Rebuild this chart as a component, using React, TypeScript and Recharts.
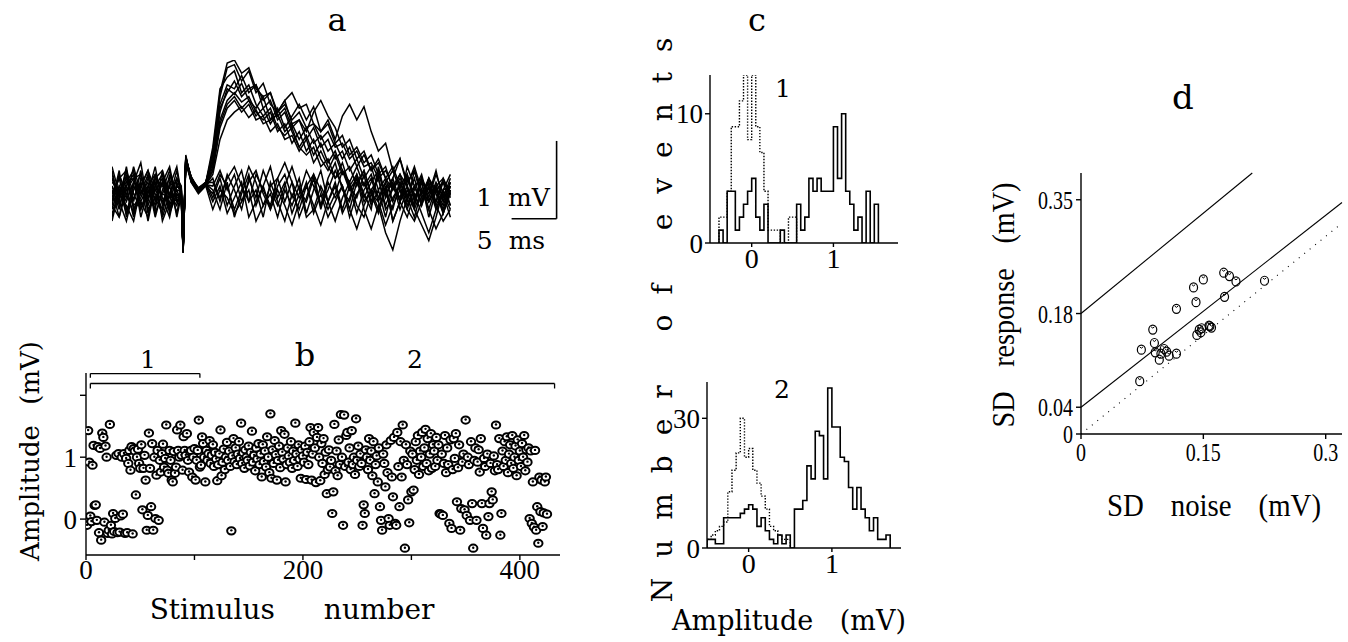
import React from 'react'
import { LineChart, Line, ScatterChart, Scatter, XAxis, YAxis, ReferenceLine } from 'recharts'

const SERIF = '"DejaVu Serif", "Liberation Serif", serif'
const TIMES = '"Liberation Serif", serif'

// ---- panel a: superimposed sweeps (mV vs ms) ----
const traceTimes = [0, 0.8, 1.6, 2.4, 3.2, 4, 4.8, 5.6, 6.4, 7.2, 7.7, 7.9, 8.2, 8.8, 9.6, 10.4, 11.2, 12, 12.8, 13.6, 14.4, 15.2, 16, 16.8, 17.6, 18.4, 19.2, 20, 20.8, 21.6, 22.4, 23.2, 24, 24.8, 25.6, 26.4, 27.2, 28, 28.8, 29.6, 30.4, 31.2, 32, 32.8, 33.6, 34.4, 35.2, 36, 36.8, 37.6]

const sweepR1 = [0.1, -0.2, 0.25, -0.1, 0.3, -0.25, 0.05, 0.2, -0.15, 0.1, 0.05, -0.74, 0.46, 0.18, 0.02, 0.12,
  0.55, 1.25, 1.62, 1.66, 1.45, 1.58, 1.3, 1.42, 1.15, 1.05, 1.2, 0.9, 0.95, 0.7, 0.85, 0.6, 0.7, 0.45, 0.55, 0.3, 0.45, 0.2, 0.35, 0.05, 0.2, -0.1, 0.15, -0.05, 0.2, -0.15, 0.1, -0.2, 0.05, 0.1]
const sweepR2 = [-0.3, 0.1, -0.05, 0.35, 0.0, 0.15, -0.3, 0.05, 0.3, -0.1, -0.05, -0.7, 0.42, 0.22, 0.06, 0.15,
  0.4, 1.05, 1.35, 1.28, 1.42, 1.2, 1.1, 1.25, 0.95, 1.1, 0.85, 1.0, 1.15, 0.95, 1.12, 0.8, 0.95, 0.7, 1.0, 1.15, 0.95, 1.12, 0.8, 0.55, 0.65, 0.3, 0.45, 0.15, 0.3, 0.0, 0.2, -0.1, 0.15, 0.0]
const sweepR3 = [0.2, -0.1, -0.35, 0.05, 0.25, -0.05, 0.15, -0.3, 0.0, 0.2, 0.1, -0.72, 0.5, 0.15, 0.0, 0.1,
  0.35, 0.95, 1.2, 1.3, 1.18, 1.25, 1.05, 0.95, 1.05, 0.8, 0.9, 0.65, 0.8, 0.55, 0.7, 0.45, 0.3, 0.5, 0.25, 0.35, 0.1, 0.3, 0.0, 0.2, -0.15, 0.1, -0.05, 0.25, -0.1, 0.15, -0.3, 0.05, -0.15, 0.1]
const sweepR4 = [-0.15, 0.25, 0.0, -0.25, 0.1, 0.3, -0.1, 0.15, -0.2, 0.05, -0.1, -0.76, 0.4, 0.2, 0.08, 0.14,
  0.5, 1.15, 1.4, 1.35, 1.52, 1.3, 1.4, 1.1, 1.2, 0.95, 1.05, 0.8, 0.6, 0.75, 0.5, 0.65, 0.4, 0.55, 0.3, 0.15, 0.35, 0.1, 0.25, -0.05, 0.15, 0.3, 0.05, -0.2, 0.1, -0.1, 0.2, 0.0, -0.25, 0.05]
const sweepR5 = [0.35, 0.0, 0.2, -0.15, -0.05, 0.2, 0.0, -0.2, 0.25, -0.05, 0.0, -0.7, 0.48, 0.17, 0.04, 0.1,
  0.3, 0.85, 1.1, 1.2, 1.05, 1.15, 0.95, 1.0, 0.8, 0.9, 0.7, 0.75, 0.55, 0.7, 0.4, 0.55, 0.35, 0.2, 0.4, 0.1, 0.25, -0.05, 0.15, 0.3, 0.0, 0.15, -0.2, 0.05, -0.15, 0.2, -0.05, 0.25, 0.0, -0.2]
const sweepR6 = [0.05, -0.3, 0.15, 0.2, -0.2, 0.0, 0.35, -0.15, 0.1, -0.25, 0.05, -0.73, 0.44, 0.19, 0.03, 0.13,
  0.6, 1.35, 1.5, 1.58, 1.3, 1.4, 1.15, 1.0, 1.1, 0.85, 0.75, 0.85, 0.6, 0.5, 0.6, 0.35, 0.45, 0.2, 0.3, 0.05, 0.2, -0.1, 0.05, 0.2, -0.2, -0.05, 0.1, -0.15, 0.05, 0.25, -0.1, 0.1, 0.2, -0.05]
const sweepR7 = [-0.2, 0.1, -0.1, 0.15, 0.4, -0.15, 0.1, 0.0, -0.05, 0.3, 0.0, -0.71, 0.47, 0.21, 0.05, 0.11,
  0.25, 0.7, 0.95, 1.05, 1.12, 0.98, 1.08, 0.9, 0.95, 1.02, 0.8, 0.9, 0.7, 0.85, 0.65, 0.75, 0.55, 0.65, 0.45, 0.6, 0.35, 0.5, 0.3, 0.4, 0.2, 0.35, 0.1, 0.25, -0.05, 0.15, 0.05, -0.1, 0.2, 0.0]
const sweepR8 = [0.15, 0.05, -0.25, 0.1, -0.1, -0.3, 0.2, 0.1, 0.0, -0.15, 0.08, -0.75, 0.43, 0.16, 0.02, 0.14,
  0.45, 1.3, 1.68, 1.72, 1.55, 1.62, 1.35, 1.25, 1.3, 1.0, 1.1, 0.85, 0.95, 0.8, 1.05, 1.2, 1.0, 0.85, 0.6, 0.7, 0.45, 0.55, 0.3, 0.45, 0.2, 0.05, 0.25, 0.1, 0.35, 0.05, -0.1, 0.15, -0.05, 0.2]
const sweepR9 = [0.25, -0.05, 0.1, -0.3, 0.2, 0.05, -0.2, 0.3, 0.0, -0.1, 0.04, -0.72, 0.45, 0.2, 0.05, 0.12,
  0.4, 1.1, 1.3, 1.45, 1.25, 1.35, 1.4, 1.2, 1.3, 1.05, 1.15, 0.95, 1.05, 0.85, 0.9, 0.7, 0.8, 0.6, 0.65, 0.45, 0.55, 0.35, 0.4, 0.2, 0.3, 0.1, 0.25, -0.05, 0.1, 0.2, -0.1, 0.05, 0.15, -0.15]
const sweepR10 = [-0.05, 0.2, 0.3, -0.2, -0.1, 0.1, 0.25, -0.05, -0.3, 0.15, -0.03, -0.74, 0.43, 0.18, 0.04, 0.13,
  0.3, 0.9, 1.15, 1.25, 1.1, 1.2, 1.0, 1.1, 0.9, 1.05, 1.2, 1.3, 1.1, 1.15, 0.9, 0.8, 0.9, 0.65, 0.75, 0.5, 0.6, 0.4, 0.5, 0.25, 0.35, 0.05, 0.2, 0.0, -0.2, 0.05, -0.1, 0.1, -0.25, 0.05]
const sweepF1 = [0.0, 0.2, -0.2, -0.05, 0.15, -0.35, 0.1, 0.25, -0.05, 0.0, -0.05, -0.72, 0.45, 0.2, 0.04, 0.12,
  0.1, 0.3, 0.05, 0.25, -0.1, 0.15, 0.3, 0.0, -0.2, 0.1, 0.25, -0.05, 0.2, -0.25, 0.05, 0.3, -0.1, 0.15, -0.2, 0.1, -0.05, 0.25, -0.15, 0.05, -0.3, 0.1, -0.1, 0.2, -0.05, 0.15, -0.2, 0.1, -0.1, 0.15]
const sweepF2 = [-0.25, -0.05, 0.3, 0.0, -0.2, 0.1, -0.15, 0.15, 0.35, -0.1, -0.08, -0.7, 0.41, 0.18, 0.07, 0.15,
  -0.05, 0.2, -0.15, 0.1, 0.3, -0.1, 0.05, -0.3, 0.15, -0.1, -0.35, 0.0, -0.2, 0.1, -0.15, -0.4, -0.1, 0.1, -0.25, -0.05, 0.2, -0.2, -0.45, -0.15, -0.5, -0.72, -0.35, -0.05, -0.3, 0.05, -0.2, -0.45, -0.25, 0.0]
const sweepF3 = [0.3, -0.15, 0.1, 0.25, -0.3, 0.05, -0.05, -0.25, 0.15, 0.05, 0.03, -0.74, 0.47, 0.16, 0.05, 0.1,
  0.2, -0.1, 0.25, 0.05, -0.2, 0.2, -0.05, 0.3, 0.05, -0.15, 0.1, 0.35, 0.05, -0.1, 0.2, -0.2, 0.15, -0.05, 0.1, -0.3, 0.0, 0.15, -0.1, 0.25, 0.0, -0.2, 0.15, -0.1, 0.3, -0.05, 0.15, -0.15, 0.05, 0.25]
const sweepF4 = [-0.1, 0.3, -0.3, 0.15, 0.05, -0.1, 0.25, -0.35, -0.1, 0.2, 0.02, -0.73, 0.44, 0.22, 0.03, 0.12,
  -0.1, 0.1, -0.25, -0.05, 0.15, -0.3, -0.1, 0.1, -0.2, 0.05, -0.15, -0.4, -0.1, 0.15, -0.25, 0.0, -0.3, -0.1, 0.1, -0.2, -0.45, -0.15, 0.05, -0.2, 0.1, -0.35, -0.1, -0.3, 0.0, -0.25, -0.5, -0.2, 0.0, -0.3]
const sweepF5 = [0.1, -0.1, 0.35, -0.2, 0.0, 0.25, -0.25, 0.0, 0.2, -0.3, -0.02, -0.71, 0.46, 0.19, 0.06, 0.13,
  0.05, -0.2, 0.15, -0.3, 0.0, 0.25, -0.15, 0.1, 0.35, -0.05, 0.15, -0.25, 0.0, 0.3, 0.1, -0.15, 0.2, 0.4, 0.05, -0.1, 0.25, 0.0, -0.2, 0.35, -0.05, 0.2, 0.45, 0.1, -0.15, 0.2, 0.0, 0.3, -0.1, 0.15]
const sweepF6 = [-0.35, 0.05, 0.15, 0.3, -0.15, -0.05, 0.2, 0.3, -0.2, 0.1, 0.06, -0.76, 0.42, 0.17, 0.03, 0.11,
  0.0, 0.25, 0.1, -0.2, 0.05, 0.35, 0.15, -0.15, 0.1, 0.2, -0.1, 0.15, -0.3, -0.05, 0.25, 0.05, -0.2, 0.0, 0.3, 0.1, -0.25, 0.05, 0.2, -0.1, 0.15, -0.35, -0.1, 0.1, -0.2, -0.4, -0.6, -0.3, 0.05, -0.15]
const sweepF7 = [0.2, 0.0, -0.15, -0.35, 0.1, 0.3, 0.05, -0.1, 0.1, 0.35, 0.0, -0.7, 0.46, 0.21, 0.06, 0.14,
  0.15, -0.05, 0.2, 0.35, 0.1, -0.1, 0.25, 0.05, -0.15, 0.2, 0.4, 0.15, -0.05, 0.1, 0.25, -0.15, 0.05, 0.3, 0.1, -0.2, 0.15, 0.3, 0.0, -0.25, 0.05, 0.2, -0.1, 0.35, 0.1, -0.15, 0.2, 0.05, -0.2, 0.1]
const sweepF8 = [-0.15, -0.3, 0.05, 0.2, 0.25, -0.2, -0.05, 0.15, -0.25, 0.0, -0.06, -0.75, 0.4, 0.15, 0.02, 0.11,
  -0.2, 0.05, -0.05, -0.25, -0.1, 0.05, -0.35, -0.15, 0.0, -0.3, 0.05, -0.15, 0.1, -0.3, -0.2, 0.1, -0.1, -0.35, -0.05, 0.15, -0.15, -0.3, 0.0, -0.1, -0.4, -0.15, 0.05, -0.2, -0.35, -0.1, 0.1, -0.15, -0.35, -0.2]

const sweeps = [sweepR1, sweepR2, sweepR3, sweepR4, sweepR5, sweepR6, sweepR7, sweepR8, sweepR9, sweepR10,
  sweepF1, sweepF2, sweepF3, sweepF4, sweepF5, sweepF6, sweepF7, sweepF8]

// scale bar: 5 ms x 1 mV
const scaleBarMs = [44.4, 49.4]
const scaleBarMv = [-0.32, 0.68]

// ---- panel b: amplitude for each stimulus ----
const stimulusAmp = [
  -0.10, 1.43, 0.92, 0.05, -0.04, 0.87, 1.19, 0.22, 0.23, -0.02,
  1.17, -0.22, 1.14, -0.34, 1.39, 1.32, -0.05, 1.18, 1.00, -0.23,
  -0.18, 1.53, -0.10, -0.24, 0.09, -0.20, 0.01, 1.03, -0.22, 1.06,
  -0.21, 0.05, 1.00, 0.08, 1.06, -0.23, 0.98, -0.22, 0.90, 1.11,
  0.79, 1.17, -0.24, 1.14, 1.10, 0.39, 1.00, 1.13, 0.90, 0.82,
  1.20, 0.15, 0.82, 1.03, 0.63, -0.18, 0.06, 1.39, 0.82, 0.20,
  1.22, -0.18, 1.00, 0.01, 0.71, 1.11, -0.02, 0.95, 0.76, 1.06,
  1.21, 0.84, 0.98, 1.52, 0.79, 0.74, 1.11, 0.95, 0.63, 0.60,
  1.09, 0.74, 0.84, 1.44, 1.11, 1.00, 1.52, 1.03, 0.79, 1.33,
  1.11, 1.03, 1.38, 0.95, 0.76, 1.09, 1.11, 0.68, 1.00, 1.14,
  0.63, 0.95, 1.11, 1.60, 0.84, 0.87, 1.33, 1.22, 1.00, 0.60,
  1.11, 0.95, 1.06, 1.27, 0.90, 1.03, 1.20, 0.85, 1.08, 0.97,
  0.62, 0.88, 1.05, 1.44, 0.70, 0.92, 1.13, 0.80, 1.00, 1.24,
  0.95, 1.10, 0.85, -0.19, 1.02, 1.30, 0.93, 1.15, 0.88, 1.05,
  1.25, 0.98, 1.55, 0.90, 1.07, 0.82, 1.12, 1.00, 0.95, 1.18,
  0.86, 1.08, 1.42, 0.92, 1.03, 0.78, 1.15, 0.97, 1.22, 0.88,
  1.05, 0.68, 1.20, 0.93, 1.10, 0.84, 1.33, 1.00, 0.75, 1.70,
  0.66, 1.12, 0.90, 1.27, 1.04, 0.63, 0.95, 1.18, 0.83, 1.43,
  1.08, 0.97, 1.37, 0.60, 0.88, 1.15, 1.02, 0.92, 1.25, 0.82,
  1.10, 0.95, 1.55, 1.05, 0.85, 1.20, 0.97, 0.66, 1.12, 1.02,
  0.92, 1.18, 0.64, 1.08, 0.88, 1.25, 1.48, 0.63, 1.05, 1.40,
  1.15, 0.59, 1.32, 1.48, 1.00, 0.62, 1.22, 0.90, 1.30, 0.72,
  1.08, 0.41, 0.80, 1.12, 0.84, 0.95, 0.09, 0.44, 1.53, 0.78,
  1.10, 0.70, 1.28, 0.88, 1.69, 1.00, -0.10, 1.68, 0.85, 1.35,
  1.40, 0.92, 1.15, 0.80, 1.43, 0.88, 1.00, 0.72, 1.62, 0.95,
  1.18, 0.85, 1.05, 0.90, -0.10, 0.23, 0.09, 1.12, 1.00, 0.80,
  1.30, 0.95, 1.10, 0.70, 1.25, 0.41, 0.88, 1.02, 0.60, 1.15,
  0.20, -0.02, -0.18, 1.05, 0.90, 0.52, 1.20, 0.75, 0.01, -0.10,
  1.27, 0.68, 0.36, 1.32, -0.07, -0.10, 1.40, 0.85, 0.20, 1.25,
  0.68, 1.52, 0.95, -0.47, 1.20, 0.88, 0.31, -0.06, 1.10, 0.44,
  1.05, 0.47, 0.80, 1.25, 0.95, 1.35, 0.72, 1.10, 1.00, 1.40,
  0.85, 1.15, 1.45, 0.90, 1.30, 0.78, 1.05, 1.38, 0.82, 1.20,
  1.10, 0.85, 1.32, 0.95, 1.20, 0.09, 0.08, 1.05, 0.06, 0.90,
  1.35, 0.75, 1.15, 0.88, -0.07, 1.28, -0.15, 0.80, 1.30, 0.98,
  1.38, 0.28, 0.83, 1.20, -0.18, 0.17, 0.92, 1.05, 0.15, 1.60,
  0.06, 1.00, 0.88, -0.02, 1.25, 0.25, -0.47, 0.95, 1.15, -0.02,
  0.92, 1.12, 0.76, 1.30, 0.25, -0.15, 0.98, 0.85, -0.26, 1.05,
  0.04, 0.25, 0.90, 0.44, 0.31, 1.02, 0.78, 1.52, 0.88, 0.80,
  1.30, -0.26, 0.09, 1.10, 0.85, 1.25, 0.95, 1.33, 0.75, 1.05,
  1.20, 0.90, 1.35, 0.82, 1.00, 1.18, 0.70, 1.28, 0.95, 1.10,
  0.85, 1.22, 1.00, 1.35, 0.78, 1.12, 0.92, 1.15, 0.01, 1.10,
  -0.07, 0.60, -0.13, 1.11, -0.18, 0.20, -0.39, 0.68, 0.12, 0.63,
  -0.12, 0.10, 0.60, 0.68, 0.08,
]
const bracketLabels = ['1', '2']
const bracketFrom = [4, 4]
const bracketTo = [105, 432]
const bracketLevel = [2.35, 2.19]
const bracketHook = [2.285, 2.11]

// ---- panel c: amplitude histograms, 0.05 mV bins ----
const BIN = 0.05
const hist1Start = -0.4
const hist1Response = [1, 0, 4, 4, 1, 2, 3, 4, 5, 2, 1, 3, 0, 0, 0, 1, 0, 0, 0, 3, 1, 2, 5, 4, 5, 4, 4, 4, 9, 5, 10, 4, 3, 1, 2, 0, 4, 0, 3]
const hist1Noise = [2, 2, 4, 9, 9, 11, 13, 8, 13, 9, 7, 4, 1, 1, 1, 0, 0, 2, 2]
const hist2Start = -0.5
const hist2Response = [2, 2, 1, 1, 7, 7, 7, 7, 8, 9, 10, 9, 5, 7, 4, 2, 1, 3, 1, 3, 0, 9, 9, 11, 19, 16, 27, 26, 16, 37, 28, 28, 21, 20, 14, 9, 14, 9, 7, 4, 7, 2, 2, 3]
const hist2Noise = [2, 3, 4, 5, 6, 13, 18, 22, 30, 21, 23, 18, 15, 12, 9, 5, 4, 3, 2, 2]

// ---- panel d: SD of response vs SD of noise ----
const noiseSD = [0.074, 0.072, 0.088, 0.090, 0.091, 0.096, 0.098, 0.102, 0.105, 0.108, 0.117, 0.117, 0.138, 0.141, 0.150, 0.142, 0.145, 0.147, 0.148, 0.157, 0.158, 0.160, 0.175, 0.182, 0.190, 0.176, 0.225]
const responseSD = [0.126, 0.079, 0.156, 0.136, 0.122, 0.111, 0.120, 0.127, 0.123, 0.117, 0.120, 0.187, 0.219, 0.197, 0.231, 0.148, 0.156, 0.152, 0.158, 0.162, 0.161, 0.159, 0.241, 0.236, 0.228, 0.205, 0.229]
const upperLine = [{ x: 0, y: 0.18 }, { x: 0.21, y: 0.39 }]
const lowerLine = [{ x: 0, y: 0.04 }, { x: 0.32, y: 0.346 }]
const identityLine = [{ x: 0, y: 0 }, { x: 0.32, y: 0.315 }]

const traceRows = traceTimes.map((t, i) => {
  const row: Record<string, number> = { t }
  sweeps.forEach((s, k) => { row['s' + k] = s[i] })
  return row
})
const stimRows = stimulusAmp.map((a, i) => ({ stim: i + 1, amp: a }))
const sdRows = noiseSD.map((n, i) => ({ noise: n, resp: responseSD[i] }))

function stepRows(start: number, counts: number[]) {
  const rows = [{ x: start, n: 0 }]
  counts.forEach((c, i) => rows.push({ x: +(start + i * BIN).toFixed(3), n: c }))
  rows.push({ x: +(start + counts.length * BIN).toFixed(3), n: 0 })
  return rows
}

function Txt({ x, y, size = 27, font = SERIF, rotate = 0, sx = 1, style = {}, children }: any) {
  return (
    <div style={{
      position: 'absolute', left: x, top: y, fontSize: size, fontFamily: font, lineHeight: 1,
      whiteSpace: 'pre', color: '#000',
      transform: `translate(-50%,-50%) rotate(${rotate}deg) scale(${sx},1)`, ...style,
    }}>{children}</div>
  )
}

function RingDot({ cx, cy }: any) {
  if (cx == null || cy == null) return null
  return (
    <g>
      <ellipse cx={cx} cy={cy} rx={4.2} ry={3.6} fill="#fff" stroke="#000" strokeWidth={2} />
      <circle cx={cx} cy={cy - 0.5} r={1.2} fill="#000" />
    </g>
  )
}

function OpenMark({ cx, cy }: any) {
  if (cx == null || cy == null) return null
  return (
    <g>
      <ellipse cx={cx} cy={cy} rx={4} ry={4.5} fill="none" stroke="#000" strokeWidth={1.2} />
      <path d={`M${cx - 1.7},${cy - 2.8} Q${cx},${cy - 0.2} ${cx + 1.7},${cy - 2.8}`} fill="none" stroke="#000" strokeWidth={1} />
    </g>
  )
}

function NarrowTick({ x, y, payload, side }: any) {
  const bottom = side === 'bottom'
  return (
    <g transform={`translate(${x},${y}) scale(0.8,1)`}>
      <text x={0} y={0} dy={bottom ? '0.78em' : '0.36em'} textAnchor={bottom ? 'middle' : 'end'}
        fill="#000" fontSize={25} fontFamily={TIMES}>{String(payload.value)}</text>
    </g>
  )
}

const axisStroke = { stroke: '#000', strokeWidth: 1.4 }
const tickFont = (size: number) => ({ fill: '#000', fontSize: size, fontFamily: TIMES })

function HistPanel({ left, top, plotW, plotH, domain, yMax, yTicks, start, response, noise }: any) {
  return (
    <div style={{ position: 'absolute', left, top }}>
      <LineChart width={40 + plotW + 5} height={5 + plotH + 36} margin={{ top: 5, right: 5, left: 0, bottom: 0 }}>
        <XAxis type="number" dataKey="x" domain={domain} allowDataOverflow ticks={[0, 1]} height={36}
          axisLine={axisStroke} tickLine={axisStroke} tickSize={4} tickMargin={1} tick={tickFont(28)} />
        <YAxis type="number" domain={[0, yMax]} allowDataOverflow ticks={yTicks} width={40}
          axisLine={axisStroke} tickLine={axisStroke} tickSize={5} tickMargin={2} tick={tickFont(27)} />
        <Line data={stepRows(start, noise)} dataKey="n" type="stepAfter" stroke="#000" strokeWidth={1.4}
          strokeDasharray="1.4 1.6" dot={false} isAnimationActive={false} />
        <Line data={response} dataKey="n" type="stepAfter" stroke="#000" strokeWidth={1.6}
          dot={false} isAnimationActive={false} />
      </LineChart>
    </div>
  )
}

export default function App() {
  return (
    <div style={{ position: 'absolute', left: 0, top: 0, width: 1348, height: 642, background: '#fff', overflow: 'hidden' }}>
      {/* a */}
      <Txt x={337} y={20} size={32}>a</Txt>
      <div style={{ position: 'absolute', left: 112, top: 60 }}>
        <LineChart width={450} height={200} data={traceRows} margin={{ top: 0, right: 0, left: 0, bottom: 0 }}>
          <XAxis type="number" dataKey="t" domain={[0, 50]} hide height={0} />
          <YAxis type="number" domain={[-0.85, 1.72]} allowDataOverflow hide width={0} />
          {sweeps.map((_, k) => (
            <Line key={k} dataKey={'s' + k} type="linear" stroke="#000" strokeWidth={1.5} dot={false} isAnimationActive={false} />
          ))}
          <ReferenceLine segment={[{ x: scaleBarMs[0], y: scaleBarMv[0] }, { x: scaleBarMs[1], y: scaleBarMv[0] }]} stroke="#000" strokeWidth={1.6} ifOverflow="visible" />
          <ReferenceLine segment={[{ x: scaleBarMs[1], y: scaleBarMv[0] }, { x: scaleBarMs[1], y: scaleBarMv[1] }]} stroke="#000" strokeWidth={1.6} ifOverflow="visible" />
        </LineChart>
      </div>
      <Txt x={513} y={197} size={25}>{'1  mV'}</Txt>
      <Txt x={511} y={240} size={25}>{'5  ms'}</Txt>

      {/* b */}
      <Txt x={305} y={355} size={32}>b</Txt>
      {bracketLabels.map((l, i) => (
        <Txt key={l} x={i === 0 ? 148 : 415} y={359} size={25}>{l}</Txt>
      ))}
      <div style={{ position: 'absolute', left: 40, top: 363 }}>
        <ScatterChart width={530} height={228} margin={{ top: 10, right: 10, left: 0, bottom: 0 }}>
          <XAxis type="number" dataKey="stim" domain={[0, 437]} allowDataOverflow ticks={[0, 100, 200, 300, 400]}
            tickFormatter={(v: number) => (v % 200 === 0 ? String(v) : '')} height={36}
            axisLine={axisStroke} tickLine={axisStroke} tickSize={5} tickMargin={0} tick={tickFont(27)} />
          <YAxis type="number" dataKey="amp" domain={[-0.58, 2.36]} allowDataOverflow ticks={[0, 1, 2]}
            tickFormatter={(v: number) => (v === 2 ? '' : String(v))} width={46}
            axisLine={axisStroke} tickLine={axisStroke} tickSize={6} tickMargin={3} tick={tickFont(27)} />
          {bracketLabels.map((l, i) => (
            <ReferenceLine key={'h' + l} segment={[{ x: bracketFrom[i], y: bracketLevel[i] }, { x: bracketTo[i], y: bracketLevel[i] }]} stroke="#000" strokeWidth={1.3} ifOverflow="visible" />
          ))}
          {bracketLabels.map((l, i) => (
            <ReferenceLine key={'l' + l} segment={[{ x: bracketFrom[i], y: bracketLevel[i] }, { x: bracketFrom[i], y: bracketHook[i] }]} stroke="#000" strokeWidth={1.3} ifOverflow="visible" />
          ))}
          {bracketLabels.map((l, i) => (
            <ReferenceLine key={'r' + l} segment={[{ x: bracketTo[i], y: bracketLevel[i] }, { x: bracketTo[i], y: bracketHook[i] }]} stroke="#000" strokeWidth={1.3} ifOverflow="visible" />
          ))}
          <Scatter data={stimRows} shape={(p: any) => <RingDot {...p} />} isAnimationActive={false} />
        </ScatterChart>
      </div>
      <Txt x={30} y={451} size={26} rotate={-90} style={{ wordSpacing: 12 }}>Amplitude (mV)</Txt>
      <Txt x={292} y={610} size={28} style={{ wordSpacing: 40 }}>Stimulus number</Txt>

      {/* c */}
      <Txt x={757} y={20} size={32}>c</Txt>
      <HistPanel left={670} top={70} plotW={188} plotH={168} domain={[-0.51, 1.79]} yMax={13} yTicks={[0, 10]}
        start={hist1Start} response={stepRows(hist1Start, hist1Response)} noise={hist1Noise} />
      <Txt x={783} y={88} size={25}>1</Txt>
      <HistPanel left={667} top={377} plotW={194} plotH={166} domain={[-0.5, 1.83]} yMax={38.4} yTicks={[0, 30]}
        start={hist2Start} response={stepRows(hist2Start, hist2Response)} noise={hist2Noise} />
      <Txt x={782} y={389} size={25}>2</Txt>
      <Txt x={663} y={310} size={28} rotate={-90} style={{ letterSpacing: 20, wordSpacing: 5 }}>Number of events</Txt>
      <Txt x={789} y={620} size={27} style={{ wordSpacing: 18 }}>Amplitude (mV)</Txt>

      {/* d */}
      <Txt x={1183} y={97} size={34}>d</Txt>
      <div style={{ position: 'absolute', left: 1031, top: 168 }}>
        <ScatterChart width={316} height={302} margin={{ top: 5, right: 5, left: 0, bottom: 0 }}>
          <XAxis type="number" dataKey="noise" domain={[0, 0.32]} allowDataOverflow ticks={[0, 0.15, 0.3]} height={36}
            axisLine={axisStroke} tickLine={axisStroke} tickSize={5} tickMargin={2}
            tick={(p: any) => <NarrowTick {...p} side="bottom" />} />
          <YAxis type="number" dataKey="resp" domain={[0, 0.39]} allowDataOverflow ticks={[0, 0.04, 0.18, 0.35]} width={50}
            axisLine={axisStroke} tickLine={axisStroke} tickSize={5} tickMargin={3}
            tick={(p: any) => <NarrowTick {...p} side="left" />} />
          <ReferenceLine segment={upperLine} stroke="#000" strokeWidth={1.1} ifOverflow="visible" />
          <ReferenceLine segment={lowerLine} stroke="#000" strokeWidth={1.1} ifOverflow="visible" />
          <ReferenceLine segment={identityLine} stroke="#000" strokeWidth={1.1} strokeDasharray="1 6" ifOverflow="visible" />
          <Scatter data={sdRows} shape={(p: any) => <OpenMark {...p} />} isAnimationActive={false} />
        </ScatterChart>
      </div>
      <Txt x={1003} y={305} size={32} font={TIMES} rotate={-90} sx={0.88} style={{ wordSpacing: 20 }}>SD response (mV)</Txt>
      <Txt x={1214} y={505} size={32} font={TIMES} sx={0.9} style={{ wordSpacing: 22 }}>SD noise (mV)</Txt>
    </div>
  )
}
